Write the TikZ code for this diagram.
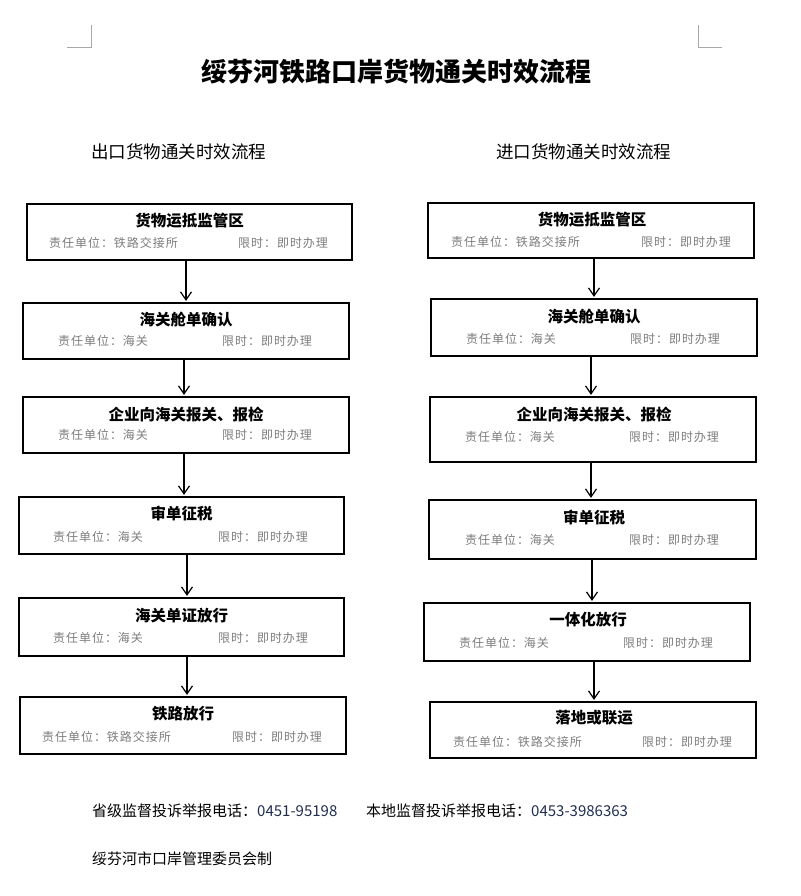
\documentclass[tikz,border=0pt]{standalone}
\usepackage{fontspec}
\usetikzlibrary{arrows.meta}
\newfontfamily\cjk{Noto Sans CJK SC}
\newfontfamily\cjksub[LetterSpace=8]{Noto Sans CJK SC}
\definecolor{subgray}{HTML}{7C7C7C}
\definecolor{markgray}{HTML}{A8A8A8}
\definecolor{numblue}{HTML}{1F2D4F}
\begin{document}
\begin{tikzpicture}[x=1pt,y=-1pt,
  box/.style={draw=black,line width=1.2pt,inner sep=0pt},
  ttl/.style={font=\cjk\bfseries\fontsize{15.5}{16}\selectfont,inner sep=0pt},
  sub/.style={font=\cjksub\fontsize{12}{13}\selectfont,text=subgray,inner sep=0pt,anchor=west},
  arr/.style={line width=1.2pt,shorten >=1.5pt,-{Straight Barb[length=8pt,width=11pt]}},
  cornermark/.style={draw=markgray,line width=1pt},
  foot/.style={font=\cjk\fontsize{15}{16}\selectfont,inner sep=0pt,anchor=west}]
\useasboundingbox (0,0) rectangle (800,896);
% corner marks
\draw[cornermark] (67,48) -- (91,48) -- (91,25);
\draw[cornermark] (698,25) -- (698,48) -- (722,48);
% main title
\node[font=\cjk\bfseries\fontsize{26}{28}\selectfont,inner sep=0pt] (title) at (396,72) {绥芬河铁路口岸货物通关时效流程};
\node[font=\cjk\fontsize{17.5}{18}\selectfont,inner sep=0pt,anchor=west] (subL) at (91,152) {出口货物通关时效流程};
\node[font=\cjk\fontsize{17.5}{18}\selectfont,inner sep=0pt,anchor=west] (subR) at (496,152) {进口货物通关时效流程};
% ---------- left column ----------
\node[box,minimum width=325pt,minimum height=56pt] (L1) at (189.5,232) {};
\node[ttl] (L1t) at (189.5,221) {货物运抵监管区};
\node[sub] (L1a) at (49,243) {责任单位：铁路交接所};
\node[sub] (L1b) at (238,243) {限时：即时办理};
\node[box,minimum width=326pt,minimum height=56pt] (L2) at (186,331) {};
\node[ttl] (L2t) at (186,320) {海关舱单确认};
\node[sub] (L2a) at (58,341) {责任单位：海关};
\node[sub] (L2b) at (222,341) {限时：即时办理};
\node[box,minimum width=326pt,minimum height=56pt] (L3) at (186,425) {};
\node[ttl] (L3t) at (186,415) {企业向海关报关、报检};
\node[sub] (L3a) at (58,435) {责任单位：海关};
\node[sub] (L3b) at (222,435) {限时：即时办理};
\node[box,minimum width=325pt,minimum height=57pt] (L4) at (181.5,525.5) {};
\node[ttl] (L4t) at (181.5,513) {审单征税};
\node[sub] (L4a) at (53,537) {责任单位：海关};
\node[sub] (L4b) at (218,537) {限时：即时办理};
\node[box,minimum width=325pt,minimum height=58pt] (L5) at (181.5,627) {};
\node[ttl] (L5t) at (181.5,616) {海关单证放行};
\node[sub] (L5a) at (53,638) {责任单位：海关};
\node[sub] (L5b) at (218,638) {限时：即时办理};
\node[box,minimum width=326pt,minimum height=57pt] (L6) at (183,725.5) {};
\node[ttl] (L6t) at (183,714) {铁路放行};
\node[sub] (L6a) at (42,737) {责任单位：铁路交接所};
\node[sub] (L6b) at (232,737) {限时：即时办理};
\draw[arr] (L1.south -| 186,0) -- (L2.north -| 186,0);
\draw[arr] (L2.south -| 184,0) -- (L3.north -| 184,0);
\draw[arr] (L3.south -| 184,0) -- (L4.north -| 184,0);
\draw[arr] (L4.south -| 187,0) -- (L5.north -| 187,0);
\draw[arr] (L5.south -| 187,0) -- (L6.north -| 187,0);
% ---------- right column ----------
\node[box,minimum width=326pt,minimum height=55pt] (R1) at (591,230.5) {};
\node[ttl] (R1t) at (592,220) {货物运抵监管区};
\node[sub] (R1a) at (451,242) {责任单位：铁路交接所};
\node[sub] (R1b) at (641,242) {限时：即时办理};
\node[box,minimum width=326pt,minimum height=57pt] (R2) at (594,327.5) {};
\node[ttl] (R2t) at (594,317) {海关舱单确认};
\node[sub] (R2a) at (466,339) {责任单位：海关};
\node[sub] (R2b) at (630,339) {限时：即时办理};
\node[box,minimum width=326pt,minimum height=65pt] (R3) at (593,429.5) {};
\node[ttl] (R3t) at (594,415) {企业向海关报关、报检};
\node[sub] (R3a) at (465,437) {责任单位：海关};
\node[sub] (R3b) at (629,437) {限时：即时办理};
\node[box,minimum width=327pt,minimum height=59pt] (R4) at (592.5,529.5) {};
\node[ttl] (R4t) at (594,517) {审单征税};
\node[sub] (R4a) at (465,540) {责任单位：海关};
\node[sub] (R4b) at (629,540) {限时：即时办理};
\node[box,minimum width=326pt,minimum height=58pt] (R5) at (587,632) {};
\node[ttl] (R5t) at (588,620) {一体化放行};
\node[sub] (R5a) at (459,643) {责任单位：海关};
\node[sub] (R5b) at (623,643) {限时：即时办理};
\node[box,minimum width=326pt,minimum height=56pt] (R6) at (593,730) {};
\node[ttl] (R6t) at (594,718) {落地或联运};
\node[sub] (R6a) at (453,742) {责任单位：铁路交接所};
\node[sub] (R6b) at (642,742) {限时：即时办理};
\draw[arr] (R1.south -| 594,0) -- (R2.north -| 594,0);
\draw[arr] (R2.south -| 591,0) -- (R3.north -| 591,0);
\draw[arr] (R3.south -| 591,0) -- (R4.north -| 591,0);
\draw[arr] (R4.south -| 592,0) -- (R5.north -| 592,0);
\draw[arr] (R5.south -| 594,0) -- (R6.north -| 594,0);
% ---------- footer ----------
\node[foot] (f1) at (92,811) {省级监督投诉举报电话：\textcolor{numblue}{0451-95198}};
\node[foot] (f2) at (366,811) {本地监督投诉举报电话：\textcolor{numblue}{0453-3986363}};
\node[foot] (f3) at (92,859) {绥芬河市口岸管理委员会制};
\end{tikzpicture}
\end{document}
